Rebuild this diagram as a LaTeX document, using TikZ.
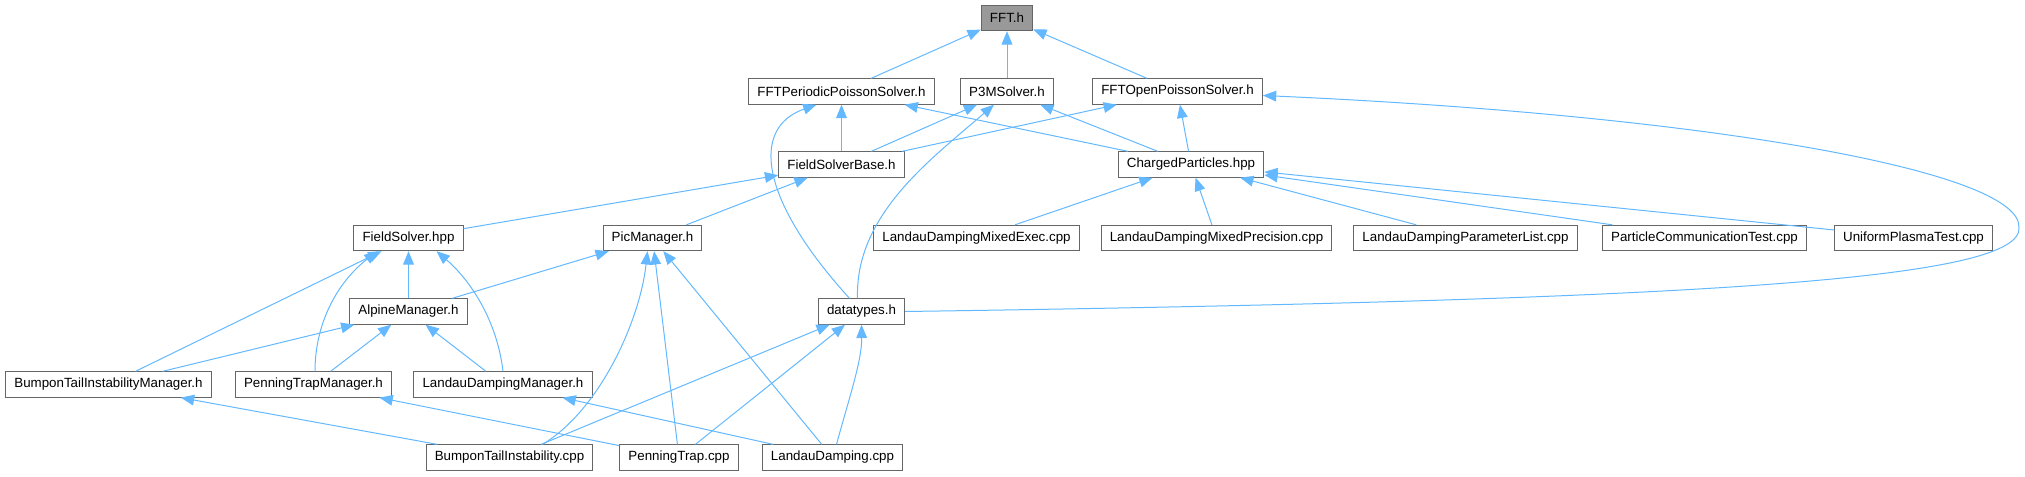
\documentclass[tikz,border=0pt]{standalone}
\usepackage{fontspec}
\setmainfont{Liberation Sans}
\usetikzlibrary{arrows.meta, calc}
\definecolor{edgeblue}{HTML}{63B8FF}
\definecolor{boxgray}{HTML}{666666}
\definecolor{rootgray}{HTML}{999999}

\begin{document}
\begin{tikzpicture}[
    x=0.75pt, y=-0.75pt,
    every node/.style={font=\fontsize{10}{12}\selectfont},
    filebox/.style={rectangle, draw=boxgray, fill=white, line width=0.75pt, minimum height=19pt, inner xsep=6.5pt, inner ysep=0pt},
    rootbox/.style={filebox, fill=rootgray},
    arrow/.style={draw=edgeblue, line width=0.75pt, -{Triangle[length=10pt, width=8pt]}},
]
\useasboundingbox (0,0) rectangle (2025,476);

% Root
\node[rootbox] (fft) at (1007,18) {FFT.h};

% Solvers
\node[filebox] (fpp) at (841.5,91.5) {FFTPeriodicPoissonSolver.h};
\node[filebox] (p3m) at (1007,91.5) {P3MSolver.h};
\node[filebox] (fop) at (1177.5,91.5) {FFTOpenPoissonSolver.h};
\node[filebox] (fsb) at (841.5,164.5) {FieldSolverBase.h};
\node[filebox] (cp) at (1191,164.5) {ChargedParticles.hpp};

% Fourth row
\node[filebox] (fs) at (408.5,238) {FieldSolver.hpp};
\node[filebox] (pm) at (652.5,238) {PicManager.h};
\node[filebox] (ldme) at (976.5,238) {LandauDampingMixedExec.cpp};
\node[filebox] (ldmp) at (1216.5,238) {LandauDampingMixedPrecision.cpp};
\node[filebox] (ldpl) at (1465.5,238) {LandauDampingParameterList.cpp};
\node[filebox] (pct) at (1704.5,238) {ParticleCommunicationTest.cpp};
\node[filebox] (upt) at (1913.5,238) {UniformPlasmaTest.cpp};

% Managers
\node[filebox] (am) at (408.5,311.5) {AlpineManager.h};
\node[filebox] (dt) at (861.5,311.5) {datatypes.h};
\node[filebox] (btim) at (108.5,384.5) {BumponTailInstabilityManager.h};
\node[filebox] (ptm) at (313.5,384.5) {PenningTrapManager.h};
\node[filebox] (ldm) at (503,384.5) {LandauDampingManager.h};

% Applications
\node[filebox] (bti) at (509.5,457.5) {BumponTailInstability.cpp};
\node[filebox] (pt) at (679,457.5) {PenningTrap.cpp};
\node[filebox] (ld) at (832.5,457.5) {LandauDamping.cpp};

% Arrows to FFT.h
\draw[arrow] (fpp) -- (fft);
\draw[arrow] (p3m) -- (fft);
\draw[arrow] (fop) -- (fft);

% Arrows to the solvers
\draw[arrow] (fsb) -- (fpp);
\draw[arrow] (fsb) -- (p3m);
\draw[arrow] (fsb) -- (fop);
\draw[arrow] (cp) -- (fpp);
\draw[arrow] (cp) -- (p3m);
\draw[arrow] (cp) -- (fop);
\draw[arrow] ($(dt.north)+(-12,0)$) .. controls (760,200) and (750,128) .. ($(fpp.south)+(-25,0)$);
\draw[arrow] ($(dt.north)+(-4,0)$) .. controls (855,215) and (930,160) .. ($(p3m.south)+(-13,0)$);
\draw[arrow] (dt.east) .. controls (1700,300) and (2025,280) .. (2019,227)
    .. controls (2020,170) and (1700,115) .. ($(fop.east)+(0,4)$);

% FieldSolverBase and ChargedParticles
\draw[arrow] (fs) -- (fsb);
\draw[arrow] (pm) -- (fsb);
\draw[arrow] (ldme) -- (cp);
\draw[arrow] (ldmp) -- (cp);
\draw[arrow] (ldpl) -- (cp);
\draw[arrow] (pct) -- (cp);
\draw[arrow] (upt) -- (cp);

% Managers
\draw[arrow] (am) -- (fs);
\draw[arrow] (am) -- (pm);
\draw[arrow] (btim) -- (fs);
\draw[arrow] ($(ptm.north)+(1.5,0)$) .. controls (315,320) and (340,280) .. ($(fs.south)+(-31,0)$);
\draw[arrow] (ldm.north) .. controls (497,320) and (470,280) .. ($(fs.south)+(28,0)$);
\draw[arrow] (btim) -- (am);
\draw[arrow] (ptm) -- (am);
\draw[arrow] (ldm) -- (am);

% Applications
\draw[arrow] (bti) -- (btim);
\draw[arrow] (pt) -- (ptm);
\draw[arrow] (ld) -- (ldm);
\draw[arrow] ($(bti.north)+(33,0)$) .. controls (600,410) and (640,320) .. ($(pm.south)+(-5,0)$);
\draw[arrow] (pt) -- (pm);
\draw[arrow] (ld) -- (pm);
\draw[arrow] (bti) -- (dt);
\draw[arrow] (pt) -- (dt);
\draw[arrow] ($(ld.north)+(4,0)$) .. controls (850,395) and (862,360) .. (dt.south);

\end{tikzpicture}
\end{document}
